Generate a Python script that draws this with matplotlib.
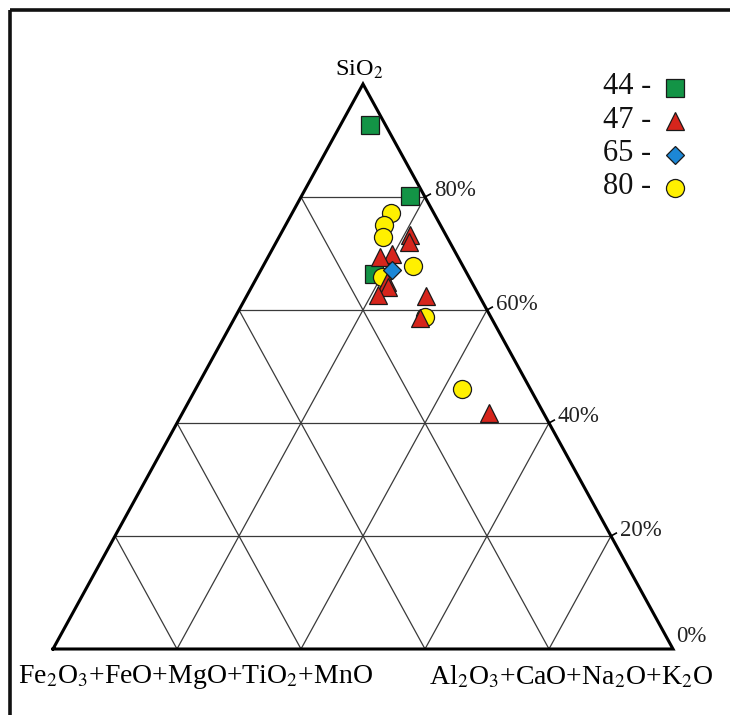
"""Ternary diagram SiO2 - (Al2O3+CaO+Na2O+K2O) - (Fe2O3+FeO+MgO+TiO2+MnO)."""

import matplotlib
matplotlib.use('Agg')
import matplotlib.pyplot as plt
import numpy as np

plt.rcParams['font.family'] = ['Liberation Serif', 'DejaVu Serif']
plt.rcParams['mathtext.fontset'] = 'stix'

# wt.% SiO2 and Al2O3+CaO+Na2O+K2O per sample; the remainder is the Fe-Mg group
sio2_44 = [92.7, 80.2, 66.4]
alk_44 = [4.7, 17.5, 18.5]

sio2_80 = [77.2, 75.0, 72.9, 67.7, 58.8, 65.9, 46.1]
alk_80 = [15.9, 15.9, 16.7, 24.2, 30.6, 20.1, 42.9]

sio2_47 = [73.3, 72.1, 69.9, 69.3, 65.0, 64.1, 62.7, 62.4, 58.5, 41.7]
alk_47 = [20.9, 21.3, 19.7, 18.1, 21.3, 22.0, 21.1, 29.0, 29.9, 49.4]

sio2_65 = [67.1]
alk_65 = [21.1]

groups = ['44', '47', '65', '80']
pct_labels = ['80%', '60%', '40%', '20%']

# triangle corners in figure pixels
X_LEFT, X_RIGHT = 53.0, 673.0
Y_BASE, HEIGHT = 649.0, 565.0


def tern(si, al):
    """Map SiO2 and Al-group percentages to plot coordinates."""
    t = np.asarray(si, dtype=float) / 100
    r = np.asarray(al, dtype=float) / 100
    x = X_LEFT + (X_RIGHT - X_LEFT) * (r + t / 2)
    y = Y_BASE - HEIGHT * t
    return x, y


fig = plt.figure(figsize=(7.30, 7.15), dpi=100)
ax = fig.add_axes([0, 0, 1, 1])
ax.set_xlim(0, 730)
ax.set_ylim(715, 0)
ax.axis('off')

# frame (top and left edges)
ax.plot([9.5, 730], [10, 10], color='#111111', lw=2.6, solid_capstyle='butt')
ax.plot([9.5, 9.5], [10, 715], color='#111111', lw=2.6, solid_capstyle='butt')

# inner grid, 20% steps
for f in [20, 40, 60, 80]:
    # constant SiO2
    x, y = tern([f, f], [0, 100 - f])
    ax.plot(x, y, color='#3a3a3a', lw=0.9, zorder=1)
    # constant Al-group
    x, y = tern([0, 100 - f], [f, f])
    ax.plot(x, y, color='#3a3a3a', lw=0.9, zorder=1)
    # constant Fe-group
    x, y = tern([0, 100 - f], [100 - f, 0])
    ax.plot(x, y, color='#3a3a3a', lw=0.9, zorder=1)

# outline
x, y = tern([0, 100, 0, 0], [0, 0, 100, 0])
ax.plot(x, y, color='black', lw=2.2, solid_joinstyle='miter', zorder=2)

# ticks and labels on the right side
side = np.array([X_RIGHT - (X_LEFT + X_RIGHT) / 2, HEIGHT])
normal = np.array([side[1], -side[0]]) / np.hypot(*side)
for lab, f in zip(pct_labels, [80, 60, 40, 20]):
    x, y = tern(f, 100 - f)
    ax.plot([x, x + 6 * normal[0]], [y, y + 6 * normal[1]], color='black', lw=1.2, zorder=2)
    ax.text(x + 9, y - 6, lab, fontsize=16.5, ha='left', va='center', color='#222222')
x, y = tern(0, 100)
ax.text(x + 3, y - 13, '0%', fontsize=16.5, ha='left', va='center', color='#222222')

ax.text(359, 70, r'SiO$_2$', fontsize=17.5, ha='center', va='center')
ax.text(18, 677, r'Fe$_2$O$_3$+FeO+MgO+TiO$_2$+MnO', fontsize=20, ha='left', va='center')
ax.text(713, 677, r'Al$_2$O$_3$+CaO+Na$_2$O+K$_2$O', fontsize=20, ha='right', va='center')

# samples
styles = {
    '44': dict(marker='s', color='#139446', ms=12.5),
    '47': dict(marker='^', color='#d6251c', ms=13.5),
    '65': dict(marker='D', color='#1c87d6', ms=9.5),
    '80': dict(marker='o', color='#fff000', ms=13),
}
data = {'44': (sio2_44, alk_44), '80': (sio2_80, alk_80),
        '47': (sio2_47, alk_47), '65': (sio2_65, alk_65)}
for z, g in enumerate(['44', '80', '47', '65']):
    x, y = tern(*data[g])
    st = styles[g]
    ax.plot(x, y, ls='none', marker=st['marker'], ms=st['ms'], mfc=st['color'],
            mec='#1a1a1a', mew=0.9, zorder=3 + z)

# legend
for i, g in enumerate(groups):
    ly = 87 + i * 33.3
    ax.text(603, ly, f'{g} -', fontsize=22, ha='left', va='center', color='#111111')
    st = styles[g]
    ax.plot(675, ly + 1, marker=st['marker'], ms=st['ms'], mfc=st['color'],
            mec='#1a1a1a', mew=0.9)

fig.savefig('out.png', dpi=100)
